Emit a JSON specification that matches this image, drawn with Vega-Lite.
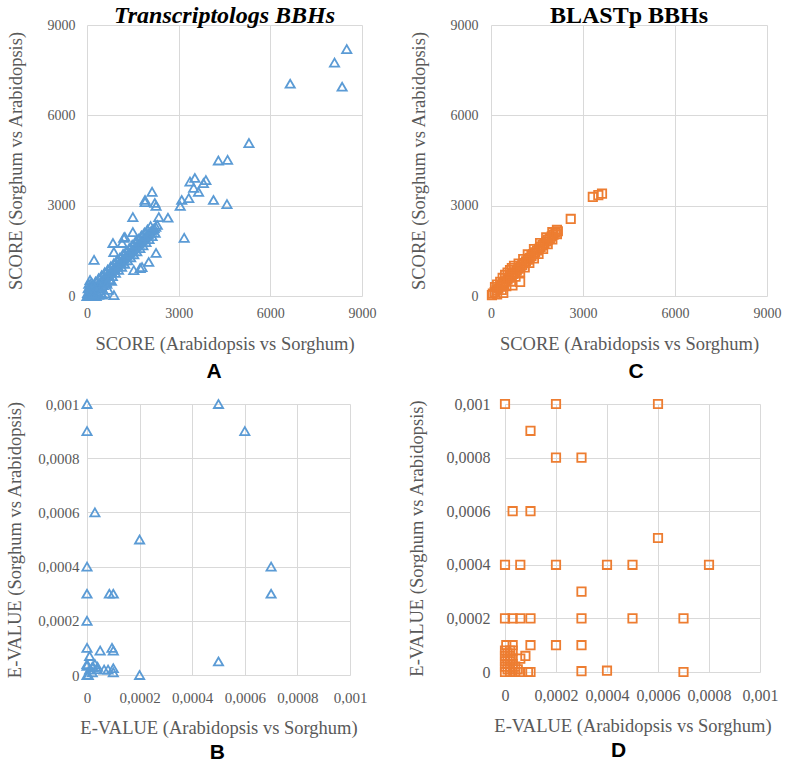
{
  "$schema": "https://vega.github.io/schema/vega-lite/v6.json",
  "background": "white",
  "padding": {"left": 5, "top": 4, "right": 5, "bottom": 2},
  "config": {
    "view": {"stroke": null},
    "axis": {
      "labelFont": "Liberation Serif", "labelFontSize": 14, "labelColor": "#595959",
      "titleFont": "Liberation Serif", "titleFontSize": 18.5, "titleFontWeight": "normal", "titleColor": "#595959",
      "gridColor": "#d9d9d9", "domain": false, "ticks": false, "labelPadding": 12, "titlePadding": 14, "labelFlush": false
    },
    "axisY": {"titlePadding": 16}
  },
  "datasets": {
    "scoreT": [
      {"x": 8500, "y": 8200}, {"x": 8100, "y": 7750}, {"x": 8350, "y": 6950}, {"x": 6650, "y": 7050},
      {"x": 5300, "y": 5080}, {"x": 4300, "y": 4500}, {"x": 4600, "y": 4520}, {"x": 3370, "y": 3800},
      {"x": 3530, "y": 3920}, {"x": 3890, "y": 3850}, {"x": 3810, "y": 3750}, {"x": 3490, "y": 3590},
      {"x": 3650, "y": 3460}, {"x": 2130, "y": 3460}, {"x": 1900, "y": 3190}, {"x": 2220, "y": 3090},
      {"x": 3100, "y": 3190}, {"x": 3330, "y": 3250}, {"x": 4140, "y": 3190}, {"x": 4580, "y": 3050},
      {"x": 3050, "y": 2990}, {"x": 1900, "y": 3120}, {"x": 2260, "y": 2990}, {"x": 3180, "y": 1930},
      {"x": 1500, "y": 2620}, {"x": 2350, "y": 2620}, {"x": 2650, "y": 2600}, {"x": 1500, "y": 2120},
      {"x": 1200, "y": 1930}, {"x": 850, "y": 1760}, {"x": 880, "y": 1460}, {"x": 1150, "y": 1760},
      {"x": 1240, "y": 1960}, {"x": 2260, "y": 1430}, {"x": 230, "y": 1200}, {"x": 1530, "y": 860},
      {"x": 1740, "y": 930}, {"x": 2020, "y": 1130}, {"x": 880, "y": 30}, {"x": 1800, "y": 960},
      {"x": 50, "y": 60}, {"x": 100, "y": 120}, {"x": 150, "y": 150}, {"x": 200, "y": 210},
      {"x": 250, "y": 260}, {"x": 300, "y": 300}, {"x": 350, "y": 360}, {"x": 400, "y": 410},
      {"x": 450, "y": 460}, {"x": 500, "y": 510}, {"x": 550, "y": 570}, {"x": 600, "y": 610},
      {"x": 650, "y": 660}, {"x": 700, "y": 720}, {"x": 750, "y": 770}, {"x": 800, "y": 810},
      {"x": 850, "y": 870}, {"x": 900, "y": 920}, {"x": 950, "y": 970}, {"x": 1000, "y": 1020},
      {"x": 1050, "y": 1080}, {"x": 1100, "y": 1120}, {"x": 1150, "y": 1170}, {"x": 1200, "y": 1230},
      {"x": 1250, "y": 1280}, {"x": 1300, "y": 1330}, {"x": 1350, "y": 1380}, {"x": 1400, "y": 1430},
      {"x": 1450, "y": 1480}, {"x": 1500, "y": 1530}, {"x": 1550, "y": 1580}, {"x": 1600, "y": 1640},
      {"x": 1650, "y": 1690}, {"x": 1700, "y": 1740}, {"x": 1750, "y": 1790}, {"x": 1800, "y": 1840},
      {"x": 1850, "y": 1890}, {"x": 1900, "y": 1940}, {"x": 1950, "y": 2000}, {"x": 2000, "y": 2050},
      {"x": 2050, "y": 2100}, {"x": 2100, "y": 2160}, {"x": 2150, "y": 2200}, {"x": 2200, "y": 2250},
      {"x": 2250, "y": 2300}, {"x": 2300, "y": 2360},
      {"x": 80, "y": 300}, {"x": 180, "y": 380}, {"x": 280, "y": 480}, {"x": 380, "y": 590},
      {"x": 480, "y": 690}, {"x": 580, "y": 790}, {"x": 680, "y": 880}, {"x": 780, "y": 990},
      {"x": 880, "y": 1090}, {"x": 980, "y": 1190}, {"x": 1080, "y": 1280}, {"x": 1180, "y": 1400},
      {"x": 1280, "y": 1490}, {"x": 1380, "y": 1590}, {"x": 1480, "y": 1700}, {"x": 1580, "y": 1800},
      {"x": 1680, "y": 1900}, {"x": 1780, "y": 2010}, {"x": 1880, "y": 2110}, {"x": 1980, "y": 2210},
      {"x": 2080, "y": 2320},
      {"x": 250, "y": 70}, {"x": 330, "y": 150}, {"x": 430, "y": 250}, {"x": 530, "y": 360},
      {"x": 630, "y": 460}, {"x": 730, "y": 560}, {"x": 830, "y": 660}, {"x": 930, "y": 770},
      {"x": 1030, "y": 870}, {"x": 1130, "y": 970}, {"x": 1230, "y": 1070}, {"x": 1330, "y": 1180},
      {"x": 1430, "y": 1280}, {"x": 1530, "y": 1380}, {"x": 1630, "y": 1480}, {"x": 1730, "y": 1590},
      {"x": 1830, "y": 1680}, {"x": 1930, "y": 1790}, {"x": 2030, "y": 1890}, {"x": 2130, "y": 1990},
      {"x": 2230, "y": 2100},
      {"x": 0, "y": 0}, {"x": 20, "y": 100}, {"x": 40, "y": 250}, {"x": 60, "y": 400},
      {"x": 100, "y": 530}, {"x": 150, "y": 450}, {"x": 200, "y": 350}, {"x": 120, "y": 30},
      {"x": 300, "y": 0}, {"x": 380, "y": 40}, {"x": 450, "y": 100}, {"x": 200, "y": 80},
      {"x": 500, "y": 50}, {"x": 700, "y": 200}, {"x": 650, "y": 400}, {"x": 800, "y": 500},
      {"x": 600, "y": 80}
    ],
    "scoreB": [
      {"x": 3620, "y": 3400}, {"x": 3320, "y": 3290}, {"x": 3500, "y": 3350}, {"x": 2600, "y": 2560},
      {"x": 950, "y": 470}, {"x": 30, "y": 30},
      {"x": 60, "y": 80}, {"x": 120, "y": 130}, {"x": 180, "y": 190}, {"x": 240, "y": 250},
      {"x": 300, "y": 310}, {"x": 360, "y": 370}, {"x": 420, "y": 430}, {"x": 480, "y": 490},
      {"x": 540, "y": 550}, {"x": 600, "y": 610}, {"x": 660, "y": 670}, {"x": 720, "y": 730},
      {"x": 780, "y": 790}, {"x": 840, "y": 850}, {"x": 900, "y": 910}, {"x": 960, "y": 970},
      {"x": 1020, "y": 1030}, {"x": 1080, "y": 1090}, {"x": 1140, "y": 1150}, {"x": 1200, "y": 1210},
      {"x": 1260, "y": 1270}, {"x": 1320, "y": 1330}, {"x": 1380, "y": 1390}, {"x": 1440, "y": 1450},
      {"x": 1500, "y": 1510}, {"x": 1560, "y": 1570}, {"x": 1620, "y": 1630}, {"x": 1680, "y": 1690},
      {"x": 1740, "y": 1750}, {"x": 1800, "y": 1810}, {"x": 1860, "y": 1870}, {"x": 1920, "y": 1920},
      {"x": 1980, "y": 1980}, {"x": 2040, "y": 2040}, {"x": 2100, "y": 2100}, {"x": 2180, "y": 2150},
      {"x": 130, "y": 300}, {"x": 300, "y": 470}, {"x": 460, "y": 700}, {"x": 620, "y": 860},
      {"x": 750, "y": 1000}, {"x": 200, "y": 380}, {"x": 380, "y": 600}, {"x": 540, "y": 780},
      {"x": 680, "y": 930}, {"x": 900, "y": 1080}, {"x": 1050, "y": 1230}, {"x": 1200, "y": 1380},
      {"x": 1400, "y": 1560}, {"x": 1600, "y": 1760}, {"x": 1800, "y": 1950}, {"x": 2000, "y": 2120},
      {"x": 2150, "y": 2200},
      {"x": 200, "y": 50}, {"x": 350, "y": 200}, {"x": 500, "y": 330}, {"x": 650, "y": 480},
      {"x": 800, "y": 640}, {"x": 950, "y": 790}, {"x": 1100, "y": 950}, {"x": 1250, "y": 1100},
      {"x": 1400, "y": 1250}, {"x": 1550, "y": 1400}, {"x": 1700, "y": 1560}, {"x": 1850, "y": 1720},
      {"x": 2000, "y": 1880}, {"x": 2150, "y": 2050}, {"x": 700, "y": 350}, {"x": 400, "y": 100}
    ],
    "evalT": [
      {"x": 0, "y": 0.001}, {"x": 0.0005, "y": 0.001}, {"x": 0, "y": 0.0009}, {"x": 0.0006, "y": 0.0009},
      {"x": 0.00003, "y": 0.0006}, {"x": 0.0002, "y": 0.0005}, {"x": 0, "y": 0.0004}, {"x": 0.0007, "y": 0.0004},
      {"x": 0, "y": 0.0003}, {"x": 0.000085, "y": 0.0003}, {"x": 0.0001, "y": 0.0003}, {"x": 0.0007, "y": 0.0003},
      {"x": 0, "y": 0.0002}, {"x": 0, "y": 0.0001}, {"x": 0.00005, "y": 0.00009}, {"x": 0.000095, "y": 0.0001},
      {"x": 0.0001, "y": 0.00009}, {"x": 0.0005, "y": 0.00005}, {"x": 0.0002, "y": 0}, {"x": 0.0001, "y": 0.00001},
      {"x": 0.0001, "y": 0.000025}, {"x": 0.000065, "y": 0.00002}, {"x": 0.00002, "y": 0.00001}, {"x": 0.00001, "y": 0.00007},
      {"x": 0, "y": 0.00004}, {"x": 0.00003, "y": 0.00004}, {"x": 0.000005, "y": 0}, {"x": 0, "y": 0},
      {"x": 0.00001, "y": 0.00002}, {"x": 0.00004, "y": 0.00003}, {"x": 0.00008, "y": 0.00002}, {"x": 0.00002, "y": 0.00003},
      {"x": 0, "y": 0.000034}, {"x": 0.000023, "y": 0.00003}, {"x": 0.000038, "y": 0.000022}
    ],
    "evalB": [
      {"x": 0, "y": 0.001}, {"x": 0.0002, "y": 0.001}, {"x": 0.0006, "y": 0.001}, {"x": 0.0001, "y": 0.0009},
      {"x": 0.0002, "y": 0.0008}, {"x": 0.0003, "y": 0.0008}, {"x": 0.00003, "y": 0.0006}, {"x": 0.0001, "y": 0.0006},
      {"x": 0.0006, "y": 0.0005}, {"x": 0, "y": 0.0004}, {"x": 0.00006, "y": 0.0004}, {"x": 0.0002, "y": 0.0004},
      {"x": 0.0004, "y": 0.0004}, {"x": 0.0005, "y": 0.0004}, {"x": 0.0008, "y": 0.0004}, {"x": 0.0003, "y": 0.0003},
      {"x": 0, "y": 0.0002}, {"x": 0.00003, "y": 0.0002}, {"x": 0.00006, "y": 0.0002}, {"x": 0.0001, "y": 0.0002},
      {"x": 0.0003, "y": 0.0002}, {"x": 0.0005, "y": 0.0002}, {"x": 0.0007, "y": 0.0002}, {"x": 0.000005, "y": 0.0001},
      {"x": 0.00003, "y": 0.0001}, {"x": 0.0001, "y": 0.0001}, {"x": 0.0002, "y": 0.0001}, {"x": 0.0003, "y": 0.0001},
      {"x": 0.00008, "y": 0.00006}, {"x": 0.00006, "y": 0.00005}, {"x": 0.0003, "y": 0.000003}, {"x": 0.0004, "y": 0.000005},
      {"x": 0.0007, "y": 0}, {"x": 0.00006, "y": 0}, {"x": 0.00009, "y": 0}, {"x": 0.0001, "y": 0},
      {"x": 0, "y": 0}, {"x": 0, "y": 0.00002}, {"x": 0, "y": 0.00004}, {"x": 0, "y": 0.00006},
      {"x": 0, "y": 0.00008}, {"x": 0.00001, "y": 0.00001}, {"x": 0.00001, "y": 0.00003}, {"x": 0.00001, "y": 0.00005},
      {"x": 0.00001, "y": 0.00007}, {"x": 0.00002, "y": 0}, {"x": 0.00002, "y": 0.00002}, {"x": 0.00002, "y": 0.00004},
      {"x": 0.00002, "y": 0.00006}, {"x": 0.00003, "y": 0.00001}, {"x": 0.00003, "y": 0.00003}, {"x": 0.00003, "y": 0.00005},
      {"x": 0.00004, "y": 0}, {"x": 0.00004, "y": 0.00002}, {"x": 0.00005, "y": 0.00001}, {"x": 0.00003, "y": 0.00008},
      {"x": 0.00002, "y": 0.00008}
    ]
  },
  "spacing": 14,
  "columns": 1,
  "align": "none",
  "concat": [
    {
      "spacing": 32,
      "hconcat": [
        {
          "title": {"text": "A", "orient": "bottom", "anchor": "middle", "dx": 23, "font": "Liberation Sans", "fontSize": 21, "fontWeight": "bold", "color": "#000000", "offset": 8},
          "vconcat": [
            {
              "title": {"text": "Transcriptologs BBHs", "font": "Liberation Serif", "fontSize": 24, "fontWeight": "bold", "fontStyle": "italic", "color": "#000000", "offset": -10},
              "width": 275, "height": 271,
              "data": {"name": "scoreT"},
              "mark": {"type": "point", "shape": "triangle-up", "filled": false, "color": "#5B9BD5", "strokeWidth": 1.8, "size": 85, "opacity": 1},
              "encoding": {
                "x": {"field": "x", "type": "quantitative", "scale": {"domain": [0, 9000]}, "axis": {"values": [0, 3000, 6000, 9000], "format": "d", "title": "SCORE (Arabidopsis vs Sorghum)", "labelPadding": 10}},
                "y": {"field": "y", "type": "quantitative", "scale": {"domain": [0, 9000]}, "axis": {"values": [0, 3000, 6000, 9000], "format": "d", "title": "SCORE (Sorghum vs Arabidopsis)", "labelPadding": 12, "titlePadding": 22}}
              }
            }
          ]
        },
        {
          "title": {"text": "C", "orient": "bottom", "anchor": "middle", "dx": 41, "font": "Liberation Sans", "fontSize": 21, "fontWeight": "bold", "color": "#000000", "offset": 8},
          "vconcat": [
            {
              "title": {"text": "BLASTp BBHs", "font": "Liberation Serif", "fontSize": 24, "fontWeight": "bold", "color": "#000000", "offset": -10},
              "width": 276, "height": 271,
              "data": {"name": "scoreB"},
              "mark": {"type": "point", "shape": "square", "filled": false, "color": "#ED7D31", "strokeWidth": 1.8, "size": 70, "opacity": 1},
              "encoding": {
                "x": {"field": "x", "type": "quantitative", "scale": {"domain": [0, 9000]}, "axis": {"values": [0, 3000, 6000, 9000], "format": "d", "title": "SCORE (Arabidopsis vs Sorghum)", "labelPadding": 10}},
                "y": {"field": "y", "type": "quantitative", "scale": {"domain": [0, 9000]}, "axis": {"values": [0, 3000, 6000, 9000], "format": "d", "title": "SCORE (Sorghum vs Arabidopsis)", "labelPadding": 13, "titlePadding": 22}}
              }
            }
          ]
        }
      ]
    },
    {
      "spacing": 39,
      "hconcat": [
        {
          "title": {"text": "B", "orient": "bottom", "anchor": "middle", "dx": 31, "font": "Liberation Sans", "fontSize": 21, "fontWeight": "bold", "color": "#000000", "offset": 5},
          "vconcat": [
            {
              "width": 263, "height": 271,
              "data": {"name": "evalT"},
              "mark": {"type": "point", "shape": "triangle-up", "filled": false, "color": "#5B9BD5", "strokeWidth": 1.8, "size": 85, "opacity": 1},
              "encoding": {
                "x": {"field": "x", "type": "quantitative", "scale": {"domain": [0, 0.001]}, "axis": {"values": [0, 0.0002, 0.0004, 0.0006, 0.0008, 0.001], "labelExpr": "replace(format(datum.value, '.4~f'), '.', ',')", "title": "E-VALUE (Arabidopsis vs Sorghum)", "labelFontSize": 15, "labelPadding": 15, "titlePadding": 13}},
                "y": {"field": "y", "type": "quantitative", "scale": {"domain": [0, 0.001]}, "axis": {"values": [0, 0.0002, 0.0004, 0.0006, 0.0008, 0.001], "labelExpr": "replace(format(datum.value, '.4~f'), '.', ',')", "title": "E-VALUE (Sorghum vs Arabidopsis)", "labelFontSize": 15, "labelPadding": 8, "titlePadding": 13}}
              }
            }
          ]
        },
        {
          "title": {"text": "D", "orient": "bottom", "anchor": "middle", "dx": 26, "font": "Liberation Sans", "fontSize": 21, "fontWeight": "bold", "color": "#000000", "offset": 5},
          "vconcat": [
            {
              "width": 255, "height": 268,
              "data": {"name": "evalB"},
              "mark": {"type": "point", "shape": "square", "filled": false, "color": "#ED7D31", "strokeWidth": 1.8, "size": 70, "opacity": 1},
              "encoding": {
                "x": {"field": "x", "type": "quantitative", "scale": {"domain": [0, 0.001]}, "axis": {"values": [0, 0.0002, 0.0004, 0.0006, 0.0008, 0.001], "labelExpr": "replace(format(datum.value, '.4~f'), '.', ',')", "title": "E-VALUE (Arabidopsis vs Sorghum)", "labelFontSize": 16, "labelPadding": 15, "titlePadding": 13}},
                "y": {"field": "y", "type": "quantitative", "scale": {"domain": [0, 0.001]}, "axis": {"values": [0, 0.0002, 0.0004, 0.0006, 0.0008, 0.001], "labelExpr": "replace(format(datum.value, '.4~f'), '.', ',')", "title": "E-VALUE (Sorghum vs Arabidopsis)", "labelFontSize": 16, "labelPadding": 15, "titlePadding": 20}}
              }
            }
          ]
        }
      ]
    }
  ]
}
